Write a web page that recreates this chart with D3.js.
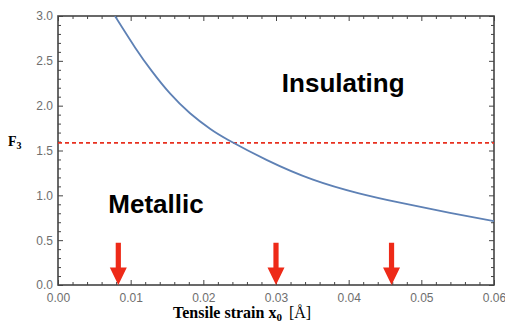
<!DOCTYPE html>
<html>
<head>
<meta charset="utf-8">
<script src="https://cdn.jsdelivr.net/npm/d3@7"></script>
<style>
  html, body { margin: 0; padding: 0; background: #fff; }
  svg { display: block; }
</style>
</head>
<body>
<svg id="chart" width="505" height="335"></svg>
<script>
// F3 as a function of tensile strain x0
const strain = [0.00784, 0.0106, 0.01289, 0.01541, 0.01817, 0.02092, 0.02343, 0.02876, 0.03509, 0.04128, 0.04706, 0.05394, 0.06];
const F3 = [3.0, 2.65, 2.388, 2.136, 1.915, 1.742, 1.617, 1.393, 1.175, 1.025, 0.918, 0.805, 0.712];

// critical value separating the two phases
const threshold = 1.585;

// strains marked with arrows
const arrowStrain = [0.0083, 0.030, 0.0459];
const arrowLength = 0.47;

const xMajor = [0, 0.01, 0.02, 0.03, 0.04, 0.05, 0.06];
const yMajor = [0, 0.5, 1.0, 1.5, 2.0, 2.5, 3.0];

const svg = d3.select("#chart");
const m = { left: 58, right: 11, top: 16, bottom: 50 };
const W = 505, H = 335;

const x = d3.scaleLinear().domain([0, 0.06]).range([m.left, W - m.right]);
const y = d3.scaleLinear().domain([0, 3]).range([H - m.bottom, m.top]);

const xMinor = d3.range(0, 0.0601, 0.002).filter(v => Math.abs(v / 0.01 - Math.round(v / 0.01)) > 1e-6);
const yMinor = d3.range(0, 3.001, 0.1).filter(v => Math.abs(v / 0.5 - Math.round(v / 0.5)) > 1e-6);

svg.append("defs").append("clipPath").attr("id", "plotClip")
  .append("rect").attr("x", m.left).attr("y", m.top)
  .attr("width", W - m.left - m.right).attr("height", H - m.top - m.bottom);

const frameColor = "#444";
const labelColor = "#6e6e6e";

function styleAxis(g) {
  g.select(".domain").remove();
  g.selectAll(".tick line").attr("stroke", frameColor).attr("stroke-width", 1);
  g.selectAll(".tick text").attr("fill", labelColor)
    .style("font-family", "'Liberation Sans', Arial, sans-serif").style("font-size", "12px");
}

// bottom axis
svg.append("g").attr("transform", `translate(0,${y(0)})`)
  .call(d3.axisBottom(x).tickValues(xMajor).tickFormat(d3.format(".2f")).tickSize(-5).tickPadding(8))
  .call(styleAxis);
svg.append("g").attr("transform", `translate(0,${y(0)})`)
  .call(d3.axisBottom(x).tickValues(xMinor).tickFormat("").tickSize(-3))
  .call(styleAxis);
// top axis
svg.append("g").attr("transform", `translate(0,${y(3)})`)
  .call(d3.axisTop(x).tickValues(xMajor).tickFormat("").tickSize(-5))
  .call(styleAxis);
svg.append("g").attr("transform", `translate(0,${y(3)})`)
  .call(d3.axisTop(x).tickValues(xMinor).tickFormat("").tickSize(-3))
  .call(styleAxis);
// left axis
svg.append("g").attr("transform", `translate(${x(0)},0)`)
  .call(d3.axisLeft(y).tickValues(yMajor).tickFormat(d3.format(".1f")).tickSize(-5).tickPadding(5))
  .call(styleAxis);
svg.append("g").attr("transform", `translate(${x(0)},0)`)
  .call(d3.axisLeft(y).tickValues(yMinor).tickFormat("").tickSize(-3))
  .call(styleAxis);
// right axis
svg.append("g").attr("transform", `translate(${x(0.06)},0)`)
  .call(d3.axisRight(y).tickValues(yMajor).tickFormat("").tickSize(-5))
  .call(styleAxis);
svg.append("g").attr("transform", `translate(${x(0.06)},0)`)
  .call(d3.axisRight(y).tickValues(yMinor).tickFormat("").tickSize(-3))
  .call(styleAxis);

// frame
svg.append("rect")
  .attr("x", x(0)).attr("y", y(3))
  .attr("width", x(0.06) - x(0)).attr("height", y(0) - y(3))
  .attr("fill", "none").attr("stroke", frameColor).attr("stroke-width", 1.6);

const plot = svg.append("g").attr("clip-path", "url(#plotClip)");

// threshold line
plot.append("line")
  .attr("x1", x(0)).attr("x2", x(0.06))
  .attr("y1", y(threshold)).attr("y2", y(threshold))
  .attr("stroke", "#e8301f").attr("stroke-width", 1.6)
  .attr("stroke-dasharray", "4,3");

// F3 curve
const pts = strain.map((s, i) => [s, F3[i]]);
plot.append("path")
  .datum(pts)
  .attr("fill", "none")
  .attr("stroke", "#5e81b5")
  .attr("stroke-width", 1.8)
  .attr("d", d3.line().x(d => x(d[0])).y(d => y(d[1])).curve(d3.curveNatural));

// arrows
const arrowColor = "#ee2a18";
const arrows = svg.append("g");
arrowStrain.forEach(s => {
  const cx = x(s), top = y(arrowLength), tip = y(0);
  const headH = 17.5, headW = 8.5, shaftW = 2.6;
  arrows.append("path")
    .attr("fill", arrowColor)
    .attr("d", `M${cx - shaftW},${top} L${cx + shaftW},${top} L${cx + shaftW},${tip - headH}
                L${cx + headW},${tip - headH} L${cx},${tip} L${cx - headW},${tip - headH}
                L${cx - shaftW},${tip - headH} Z`);
});

// phase labels
const phaseFont = "'Liberation Sans', Arial, Helvetica, sans-serif";
svg.append("text")
  .attr("x", x(0.0308)).attr("y", y(2.155))
  .style("font-family", phaseFont).style("font-weight", "bold").style("font-size", "26px")
  .attr("fill", "#000").text("Insulating");
svg.append("text")
  .attr("x", x(0.00692)).attr("y", y(0.80))
  .style("font-family", phaseFont).style("font-weight", "bold").style("font-size", "26px")
  .attr("fill", "#000").text("Metallic");

// axis titles
const serif = "'Liberation Serif', 'Times New Roman', serif";
const yTitle = svg.append("text")
  .attr("x", 8).attr("y", 146)
  .style("font-family", serif).style("font-weight", "bold").style("font-size", "14px")
  .attr("fill", "#000");
yTitle.append("tspan").text("F");
yTitle.append("tspan").attr("dy", 2.5).style("font-size", "10px").text("3");

const xTitle = svg.append("text")
  .attr("x", 173).attr("y", 318)
  .style("font-family", serif).style("font-size", "16px")
  .attr("fill", "#000");
xTitle.append("tspan").style("font-weight", "bold").text("Tensile strain x");
xTitle.append("tspan").attr("dy", 3).style("font-weight", "bold").style("font-size", "11px").text("0");
xTitle.append("tspan").attr("dy", -3).attr("dx", 3).text("\u00a0[Å]");
</script>
</body>
</html>
